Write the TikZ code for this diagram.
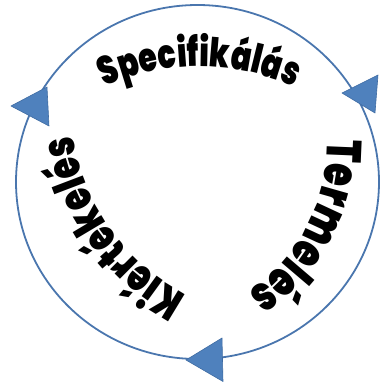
\documentclass[tikz,border=0pt]{standalone}
\usepackage{fontspec}
\newfontfamily\heavy{Poppins Black}[FakeStretch=0.75]
\usetikzlibrary{decorations.text}
\definecolor{ringblue}{HTML}{4A76AE}
\definecolor{triblue}{HTML}{4F81BD}
\definecolor{triedge}{HTML}{3F6CA3}
\tikzset{
  ring/.style={draw=ringblue, line width=1.8pt},
  tri/.style={fill=triblue, draw=triedge, line width=0.6pt, line join=round},
  arctext/.style={decorate, decoration={text along path, text align=center, text={#1}}}
}
\begin{document}
\begin{tikzpicture}[x=1pt,y=1pt]
\useasboundingbox (0,0) rectangle (380,383);
\coordinate (C) at (197.5,201);
\draw[ring] (C) ellipse[x radius=181.5, y radius=177];
% arrowheads
\coordinate (l1) at (11,277); \coordinate (l2) at (47,296); \coordinate (l3) at (49,257);
\coordinate (r1) at (342,290); \coordinate (r2) at (378,308); \coordinate (r3) at (375,270);
\coordinate (b1) at (186,23); \coordinate (b2) at (222,45); \coordinate (b3) at (223,1.5);
\draw[tri] (l1) -- (l2) -- (l3) -- cycle;
\draw[tri] (r1) -- (r2) -- (r3) -- cycle;
\draw[tri] (b1) -- (b2) -- (b3) -- cycle;
% curved labels
\path[arctext={|\heavy\fontsize{40}{46}\selectfont|Specifikálás}, shift={(199.5,88.4)}]
  (150:228) arc[start angle=150, end angle=30, radius=228];
\path[arctext={|\heavy\fontsize{49}{55}\selectfont|Termelés}, shift={(147,240)}]
  (40:180) arc[start angle=40, end angle=-95, radius=180];
\path[arctext={|\heavy\fontsize{45}{51}\selectfont|Kiértékelés}, shift={(289,281.5)}]
  (275:219) arc[start angle=275, end angle=156, radius=219];
\end{tikzpicture}
\end{document}
